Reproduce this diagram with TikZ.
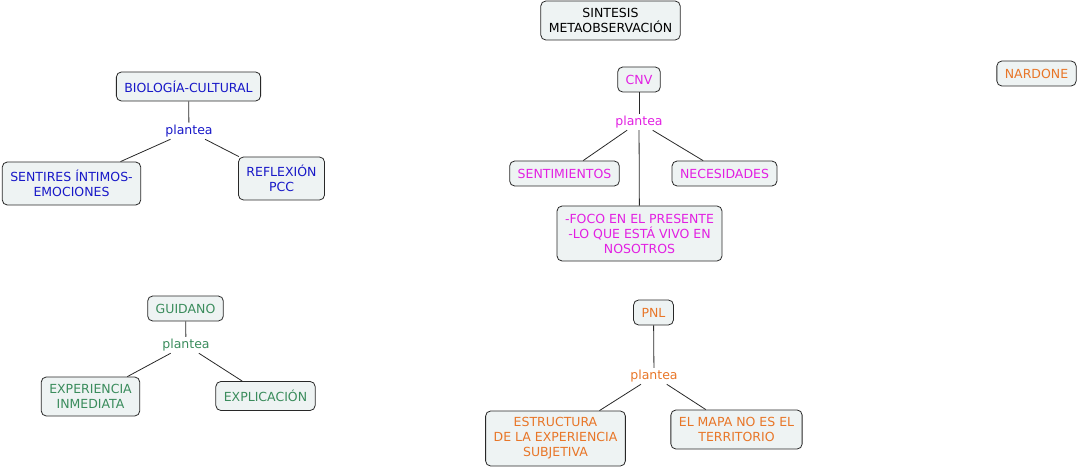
\documentclass[tikz,border=0pt]{standalone}
\usepackage{fontspec}
\setmainfont{DejaVu Sans}
\usepackage{xcolor}
\usetikzlibrary{positioning}
\definecolor{bioblue}{RGB}{24,24,200}
\definecolor{cnvpink}{RGB}{226,32,226}
\definecolor{guigreen}{RGB}{58,140,92}
\definecolor{pnlorange}{RGB}{232,118,40}
\definecolor{boxfill}{RGB}{238,243,243}
\definecolor{boxline}{RGB}{40,40,40}

\begin{document}
\begin{tikzpicture}[x=1pt, y=-1pt,
        concept/.style={
                draw=boxline,
                fill=boxfill,
                rounded corners=5pt,
                line width=0.8pt,
                align=center,
                inner xsep=8pt,
                inner ysep=5pt,
                minimum height=25pt,
                font=\fontsize{12.5}{15}\selectfont,
        },
        linkword/.style={
                inner sep=2pt,
                font=\fontsize{12.5}{15}\selectfont,
        },
        link/.style={draw=boxline, line width=0.8pt}]
            \useasboundingbox (0, 0) rectangle (1077, 468);
            % title
            \node[concept, minimum height=39pt] (sintesis) at (610.5, 20.5) {SINTESIS\\METAOBSERVACIÓN};
            \node[concept, text=pnlorange] (nardone) at (1036.5, 73.5) {NARDONE};
            % biologia cultural
            \node[concept, text=bioblue, minimum height=29pt] (bio) at (188.5, 86.5) {BIOLOGÍA-CULTURAL};
            \node[linkword, text=bioblue] (bioplantea) at (189, 131) {plantea};
            \node[concept, text=bioblue, minimum height=43pt] (sentires) at (71.5, 183.5) {SENTIRES ÍNTIMOS-\\EMOCIONES};
            \node[concept, text=bioblue, minimum height=43pt] (reflexion) at (281.5, 178.5) {REFLEXIÓN\\PCC};
            \draw[link] (bio) -- (bioplantea);
            \draw[link] (bioplantea) -- (sentires);
            \draw[link] (bioplantea) -- (reflexion);
            % cnv
            \node[concept, text=cnvpink] (cnv) at (639, 79.5) {CNV};
            \node[linkword, text=cnvpink] (cnvplantea) at (639, 122) {plantea};
            \node[concept, text=cnvpink] (sentimientos) at (564.5, 173.5) {SENTIMIENTOS};
            \node[concept, text=cnvpink] (necesidades) at (724.5, 173.5) {NECESIDADES};
            \node[concept, text=cnvpink, minimum height=55pt] (foco) at (639.5, 233.5) {-FOCO EN EL PRESENTE\\-LO QUE ESTÁ VIVO EN\\NOSOTROS};
            \draw[link] (cnv) -- (cnvplantea);
            \draw[link] (cnvplantea) -- (sentimientos);
            \draw[link] (cnvplantea) -- (necesidades);
            \draw[link] (cnvplantea) -- (foco);
            % guidano
            \node[concept, text=guigreen] (guidano) at (185.5, 308.5) {GUIDANO};
            \node[linkword, text=guigreen] (guiplantea) at (186, 345) {plantea};
            \node[concept, text=guigreen, minimum height=39pt] (experiencia) at (90.5, 396.5) {EXPERIENCIA\\INMEDIATA};
            \node[concept, text=guigreen, minimum height=29pt] (explicacion) at (265.5, 396) {EXPLICACIÓN};
            \draw[link] (guidano) -- (guiplantea);
            \draw[link] (guiplantea) -- (experiencia);
            \draw[link] (guiplantea) -- (explicacion);
            % pnl
            \node[concept, text=pnlorange] (pnl) at (653.5, 312.5) {PNL};
            \node[linkword, text=pnlorange] (pnlplantea) at (654, 376) {plantea};
            \node[concept, text=pnlorange, minimum height=55pt] (estructura) at (555.5, 438.5) {ESTRUCTURA\\DE LA EXPERIENCIA\\SUBJETIVA};
            \node[concept, text=pnlorange, minimum height=39pt] (mapa) at (736.5, 429.5) {EL MAPA NO ES EL\\TERRITORIO};
            \draw[link] (pnl) -- (pnlplantea);
            \draw[link] (pnlplantea) -- (estructura);
            \draw[link] (pnlplantea) -- (mapa);
        \end{tikzpicture}
\end{document}
